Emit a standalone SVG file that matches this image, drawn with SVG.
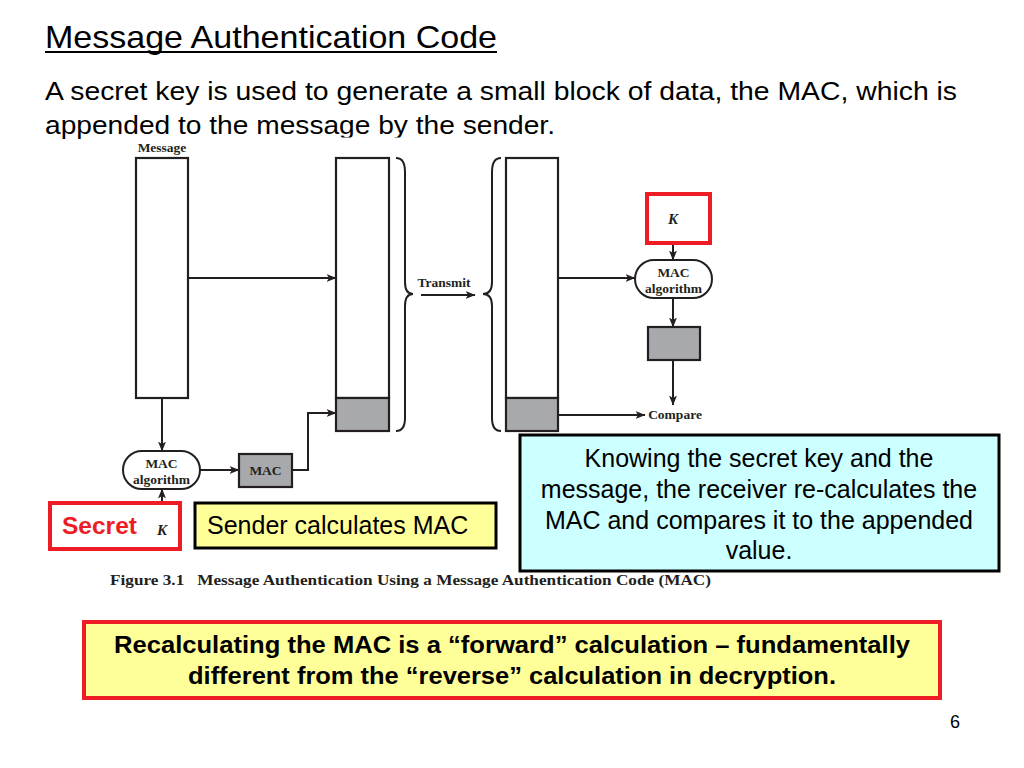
<svg xmlns="http://www.w3.org/2000/svg" width="1024" height="768" viewBox="0 0 1024 768">
<style>
.ttl{font-family:"Liberation Sans",Arial,sans-serif;fill:#000}
.fig{font-family:"Liberation Serif","Times New Roman",serif;font-weight:bold;fill:#231f20;font-size:13.5px;text-anchor:middle}
.kk{font-family:"Liberation Serif","Times New Roman",serif;font-style:italic;font-weight:bold;fill:#231f20;font-size:15px;text-anchor:middle}
.box{fill:#fff;stroke:#231f20;stroke-width:2.2}
.gray{fill:#a7a9ac;stroke:#231f20;stroke-width:2.2}
.pill{fill:#fff;stroke:#231f20;stroke-width:2}
.ln{fill:none;stroke:#231f20;stroke-width:2}
.arr{fill:none;stroke:#231f20;stroke-width:2;marker-end:url(#ah)}
.red{fill:#fff;stroke:#ee1c25;stroke-width:4}
.note{font-family:"Liberation Sans",Arial,sans-serif;font-size:25px;fill:#000}
</style>
<defs>
<marker id="ah" viewBox="0 0 10 8" refX="9.5" refY="4" markerWidth="10" markerHeight="8" markerUnits="userSpaceOnUse" orient="auto">
<path d="M0,0 L10,4 L0,8 L2.5,4 Z" fill="#231f20"/>
</marker>
</defs>
<rect width="1024" height="768" fill="#fff"/>

<g id="title">
<text class="ttl" x="45" y="48" font-size="32" textLength="452" lengthAdjust="spacingAndGlyphs">Message Authentication Code</text>
<rect x="45" y="51" width="452" height="2" fill="#000"/>
</g>
<g id="subtitle">
<text class="ttl" x="45" y="100" font-size="25.5" textLength="912" lengthAdjust="spacingAndGlyphs">A secret key is used to generate a small block of data, the MAC, which is</text>
<text class="ttl" x="45" y="134" font-size="25.5" textLength="510" lengthAdjust="spacingAndGlyphs">appended to the message by the sender.</text>
</g>
<rect x="100" y="137.5" width="630" height="460" fill="#fff"/>

<g id="connectors">
<line class="arr" x1="188" y1="278" x2="336" y2="278"/>
<line class="arr" x1="162" y1="398" x2="162" y2="451"/>
<line class="arr" x1="162" y1="521" x2="162" y2="489"/>
<line class="arr" x1="200" y1="470" x2="239" y2="470"/>
<path class="arr" d="M292,470 H308 V413 H336"/>
<line class="arr" x1="421" y1="295" x2="475" y2="295"/>
<line class="arr" x1="558" y1="278" x2="635" y2="278"/>
<line class="arr" x1="673" y1="232" x2="673" y2="260"/>
<line class="arr" x1="673" y1="298" x2="673" y2="327"/>
<line class="arr" x1="673" y1="360" x2="673" y2="405"/>
<line class="arr" x1="558" y1="415" x2="645" y2="415"/>
<path class="ln" d="M396,158 Q405,158 405,172 L405,282 Q405,294 413,294 Q405,294 405,306 L405,418 Q405,431 396,431"/>
<path class="ln" d="M501,158 Q492,158 492,172 L492,282 Q492,294 483,294 Q492,294 492,306 L492,418 Q492,431 501,431"/>
</g>

<g id="message">
<text class="fig" x="162" y="152" font-size="12.5">Message</text>
<rect class="box" x="136" y="158" width="52" height="240"/>
</g>
<g id="sent-message">
<rect class="box" x="336" y="158" width="53" height="240"/>
<rect class="gray" x="336" y="398" width="53" height="33"/>
</g>
<g id="transmit">
<text class="fig" x="444" y="287" font-size="14">Transmit</text>
</g>
<g id="received-message">
<rect class="box" x="506" y="158" width="52" height="240"/>
<rect class="gray" x="506" y="398" width="52" height="33"/>
</g>
<g id="mac-alg-sender">
<rect class="pill" x="123" y="451" width="77" height="38" rx="19"/>
<text class="fig" x="161.5" y="468">MAC</text>
<text class="fig" x="161.5" y="484">algorithm</text>
</g>
<g id="mac-sender">
<rect class="gray" x="239" y="454" width="53" height="33"/>
<text class="fig" x="265.5" y="475">MAC</text>
</g>
<g id="secret">
<rect class="red" x="50" y="503" width="130" height="46"/>
<text x="62" y="534" font-family="'Liberation Sans',Arial,sans-serif" font-weight="bold" font-size="24.5" fill="#ee1c25">Secret</text>
<text class="kk" x="162" y="535">K</text>
</g>
<g id="sender-note">
<rect x="195" y="503" width="301" height="45" fill="#ffff99" stroke="#000" stroke-width="3"/>
<text class="note" x="207" y="534">Sender calculates MAC</text>
</g>
<g id="key-receiver">
<rect class="red" x="647" y="194" width="63" height="49"/>
<text class="kk" x="673" y="224">K</text>
</g>
<g id="mac-alg-receiver">
<rect class="pill" x="635" y="260" width="77" height="38" rx="19"/>
<text class="fig" x="673.5" y="277">MAC</text>
<text class="fig" x="673.5" y="293">algorithm</text>
</g>
<g id="mac-receiver">
<rect class="gray" x="648" y="327" width="52" height="33"/>
</g>
<g id="compare">
<text class="fig" x="675" y="419" font-size="14">Compare</text>
</g>
<g id="receiver-note">
<rect x="520" y="435" width="479" height="136" fill="#ccffff" stroke="#000" stroke-width="3"/>
<text class="note" x="759" y="467" text-anchor="middle">Knowing the secret key and the</text>
<text class="note" x="759" y="498" text-anchor="middle">message, the receiver re-calculates the</text>
<text class="note" x="759" y="529" text-anchor="middle">MAC and compares it to the appended</text>
<text class="note" x="759" y="559" text-anchor="middle">value.</text>
</g>
<g id="caption">
<text x="110" y="585" font-family="'Liberation Serif','Times New Roman',serif" font-weight="bold" font-size="15" fill="#231f20" xml:space="preserve" textLength="601" lengthAdjust="spacingAndGlyphs">Figure 3.1   Message Authentication Using a Message Authentication Code (MAC)</text>
</g>
<g id="conclusion">
<rect x="84" y="622" width="856" height="76" fill="#ffff99" stroke="#ee1c25" stroke-width="4"/>
<text x="512" y="653" text-anchor="middle" font-family="'Liberation Sans',Arial,sans-serif" font-weight="bold" font-size="23" fill="#000" textLength="796" lengthAdjust="spacingAndGlyphs">Recalculating the MAC is a “forward” calculation – fundamentally</text>
<text x="512" y="684" text-anchor="middle" font-family="'Liberation Sans',Arial,sans-serif" font-weight="bold" font-size="23" fill="#000" textLength="648" lengthAdjust="spacingAndGlyphs">different from the “reverse” calculation in decryption.</text>
</g>
<g id="page">
<text x="950" y="728" font-family="'Liberation Sans',Arial,sans-serif" font-size="18" fill="#000">6</text>
</g>
</svg>
